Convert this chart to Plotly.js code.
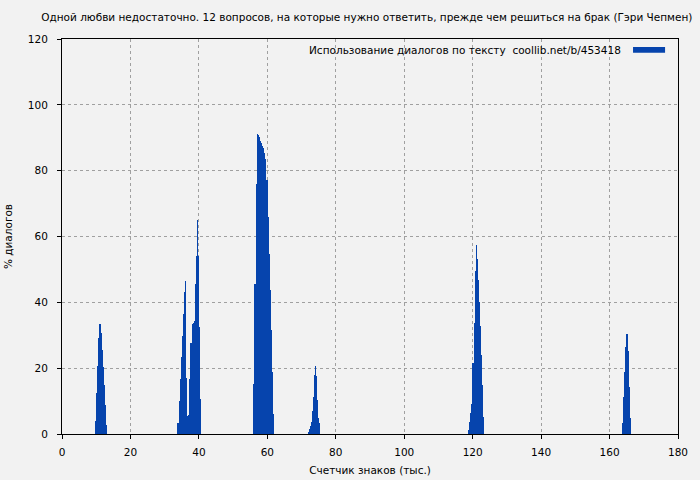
<!DOCTYPE html>
<html>
<head>
<meta charset="utf-8">
<script src="https://cdn.plot.ly/plotly-3.0.1.min.js"></script>
<style>html,body{margin:0;padding:0;background:#f2f2f2;}#chart{width:700px;height:480px;}</style>
</head>
<body>
<div id="chart"></div>
<script>
// Character count (thousands) for each sampled bar
const charsK = [
  9.9, 10.2, 10.5, 10.8, 11.1, 11.4, 11.7, 12.0, 12.3, 12.6, 12.9,
  33.9, 34.2, 34.5, 34.8, 35.1, 35.4, 35.7, 36.0, 36.2, 36.5, 36.8, 37.1, 37.4, 37.7, 38.0, 38.3, 38.6, 38.9, 39.2, 39.4, 39.7, 40.0, 40.3, 40.6,
  56.1, 56.4, 56.7, 57.0, 57.3, 57.6, 57.9, 58.2, 58.5, 58.8, 59.1, 59.3, 59.6, 59.9, 60.2, 60.5, 60.8, 61.1, 61.4, 61.7,
  71.9, 72.2, 72.5, 72.8, 73.1, 73.4, 73.7, 74.0, 74.3, 74.6, 74.9, 75.2,
  118.9, 119.2, 119.5, 119.8, 120.1, 120.4, 120.7, 121.0, 121.3, 121.6, 121.9, 122.2, 122.5, 122.8, 123.1,
  163.9, 164.2, 164.5, 164.8, 165.1, 165.4, 165.7, 166.0
];
// Dialogue share (%) for each bar
const dialogPct = [
  4.0, 12.5, 20.8, 29.2, 33.4, 30.7, 25.5, 20.5, 14.9, 8.8, 2.7,
  3.4, 10.0, 16.7, 23.4, 29.8, 36.5, 43.2, 46.6, 39.5, 17.0, 5.5, 5.8, 16.7, 27.6, 33.4, 33.8, 34.2, 45.6, 53.5, 54.0, 65.0, 54.2, 32.6, 10.6,
  15.2, 45.6, 76.0, 91.2, 90.7, 90.1, 89.1, 88.4, 87.5, 86.8, 85.5, 84.8, 83.5, 77.2, 66.0, 54.7, 43.6, 31.6, 18.8, 6.1,
  0.6, 1.5, 2.4, 3.7, 7.0, 11.3, 17.9, 20.7, 17.5, 10.3, 4.9, 3.3,
  1.2, 3.7, 6.5, 9.1, 21.5, 33.7, 49.6, 57.4, 53.1, 46.8, 40.2, 32.9, 24.0, 14.9, 5.3,
  3.4, 11.1, 18.7, 26.5, 30.4, 25.2, 14.4, 4.8
];
const xTicks = [0, 20, 40, 60, 80, 100, 120, 140, 160, 180];
const yTicks = [0, 20, 40, 60, 80, 100, 120];
const chartTitle = 'Одной любви недостаточно. 12 вопросов, на которые нужно ответить, прежде чем решиться на брак (Гэри Чепмен)';
const seriesName = 'Использование диалогов по тексту  coollib.net/b/453418';
const xLabel = 'Счетчик знаков (тыс.)';
const yLabel = '% диалогов';

const barColor = '#0644ad';
const fontFam = 'DejaVu Sans, sans-serif';
const txtSize = 10.5;

const trace = {
  type: 'bar',
  x: charsK,
  y: dialogPct,
  width: 0.31,
  name: seriesName,
  marker: {color: barColor, line: {width: 0}},
  hoverinfo: 'x+y'
};

const axisCommon = {
  showline: true,
  linecolor: '#000',
  linewidth: 1,
  mirror: true,
  ticks: 'outside',
  ticklen: 4,
  tickcolor: '#000',
  showgrid: true,
  gridcolor: '#a0a0a0',
  griddash: 'dot',
  gridwidth: 1,
  zeroline: false,
  tickfont: {family: fontFam, size: txtSize, color: '#000'}
};

const layout = {
  width: 700,
  height: 480,
  paper_bgcolor: '#f2f2f2',
  plot_bgcolor: '#f2f2f2',
  margin: {l: 62, r: 22, t: 39, b: 46},
  showlegend: false,
  bargap: 0,
  title: {
    text: chartTitle,
    font: {family: fontFam, size: txtSize, color: '#000'},
    x: 0.524, xref: 'container', xanchor: 'center',
    y: 0.963, yref: 'container', yanchor: 'middle'
  },
  xaxis: Object.assign({}, axisCommon, {
    range: [0, 180],
    tickvals: xTicks,
    ticktext: xTicks.map(String),
    ticklabelstandoff: 4,
    title: {text: xLabel, font: {family: fontFam, size: txtSize, color: '#000'}, standoff: 10}
  }),
  yaxis: Object.assign({}, axisCommon, {
    range: [0, 120],
    tickvals: yTicks,
    ticktext: yTicks.map(String),
    ticklabelstandoff: 7,
    title: {text: yLabel, font: {family: fontFam, size: txtSize, color: '#000'}, standoff: 13}
  }),
  annotations: [{
    text: seriesName,
    xref: 'paper', yref: 'paper',
    x: 0.911, y: 0.972,
    xanchor: 'right', yanchor: 'middle',
    showarrow: false,
    font: {family: fontFam, size: txtSize, color: '#000'}
  }],
  shapes: [{
    type: 'rect', xref: 'paper', yref: 'paper',
    x0: 0.927, x1: 0.979, y0: 0.965, y1: 0.980,
    fillcolor: barColor, line: {width: 0}
  }]
};

Plotly.newPlot('chart', [trace], layout, {displayModeBar: false, staticPlot: true});
</script>
</body>
</html>
